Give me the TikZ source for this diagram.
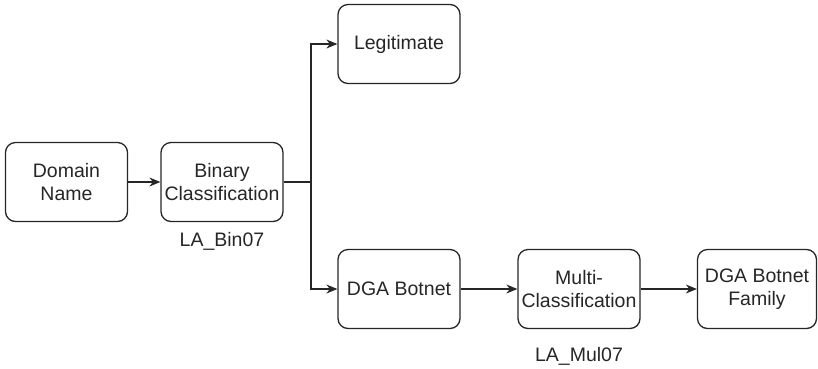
\documentclass[tikz,border=0pt]{standalone}
\usepackage{fontspec}
\setmainfont{Liberation Sans}
\usetikzlibrary{arrows.meta,positioning}

\begin{document}
\begin{tikzpicture}[x=1pt,y=-1pt,
  box/.style={draw=black!85,line width=1.3pt,rounded corners=10pt,
    minimum width=122pt,minimum height=79pt,inner sep=0pt,align=center,
    text=black!85,font=\fontsize{19.5}{23}\selectfont},
  lbl/.style={text=black!85,font=\fontsize{19.5}{23}\selectfont},
  link/.style={draw=black!85,line width=1.3pt,-{Stealth[length=11pt,width=9pt]}}]
\useasboundingbox (0,0) rectangle (818,368);
\node[box] (dom) at (66.5,182) {Domain\\Name};
\node[box] (bin) at (222,182) {Binary\\Classification};
\node[box] (legit) at (399,44) {Legitimate};
\node[box] (dga) at (399,289) {DGA Botnet};
\node[box] (multi) at (579,289) {Multi-\\Classification};
\node[box,minimum width=119pt] (family) at (757,289) {DGA Botnet\\Family};
\node[lbl] (binlbl) at (222,241) {LA\_Bin07};
\node[lbl] (mullbl) at (579,356) {LA\_Mul07};
\coordinate (split) at (311,182);
% binary split into the two classes
\draw[link] (dom) -- (bin);
\draw[draw=black!85,line width=1.3pt] (bin) -- (split);
\draw[link] (split) |- (legit);
\draw[link] (split) |- (dga);
% family stage
\draw[link] (dga) -- (multi);
\draw[link] (multi) -- (family);
\end{tikzpicture}
\end{document}
